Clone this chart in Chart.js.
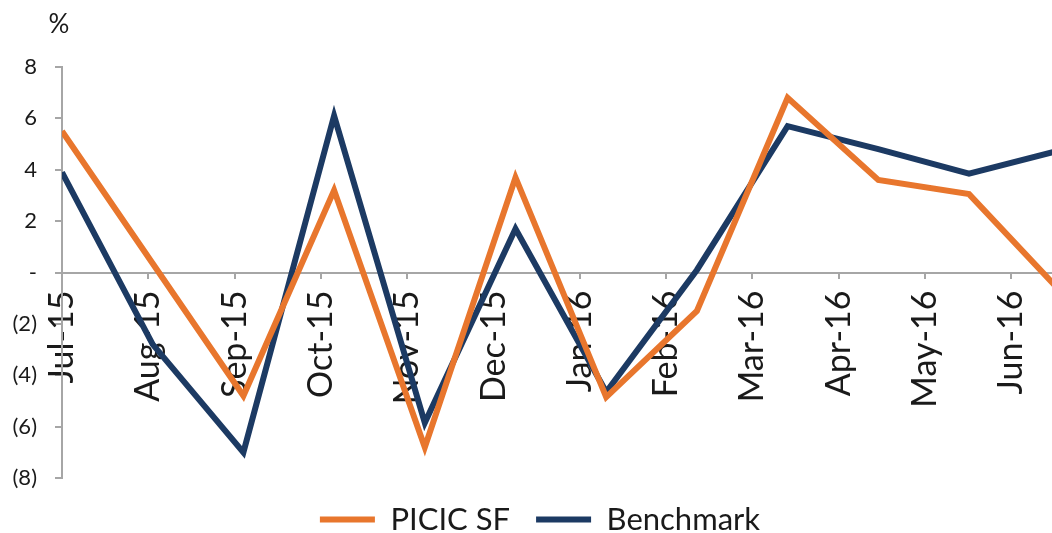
<!DOCTYPE html>
<html>
<head>
<meta charset="utf-8">
<script src="https://cdn.jsdelivr.net/npm/chart.js@4.4.1/dist/chart.umd.min.js"></script>
<style>
  html, body { margin: 0; padding: 0; background: #ffffff; overflow: hidden; }
  #wrap { width: 1052px; height: 533px; position: relative; }
</style>
</head>
<body>
<div id="wrap"><canvas id="c" width="1052" height="533"></canvas></div>
<script>
// ---- data ----
const months = ['Jul-15','Aug-15','Sep-15','Oct-15','Nov-15','Dec-15','Jan-16','Feb-16','Mar-16','Apr-16','May-16','Jun-16'];
const picicSF = [5.5, 0.35, -4.8, 3.2, -6.8, 3.7, -4.85, -1.5, 6.8, 3.6, 3.05, -0.7];
const benchmark = [3.9, -2.8, -7.0, 6.1, -5.85, 1.7, -4.65, 0.1, 5.7, 4.8, 3.85, 4.75];
const yTicks = [-8, -6, -4, -2, 0, 2, 4, 6, 8];

const ORANGE = '#E8762D';
const NAVY = '#1C3A63';
const AXIS = '#A6A6A6';
const FONT = 'Lato, "Open Sans", sans-serif';

const toPoints = arr => arr.map((v, i) => ({ x: i, y: v }));

const percentLabel = {
  id: 'percentLabel',
  afterLayout(chart) {
    if (chart.legend) { chart.legend.left += 28; }
  },
  afterDraw(chart) {
    const ctx = chart.ctx;
    ctx.save();
    ctx.font = '26px ' + FONT;
    ctx.fillStyle = '#1a1a1a';
    ctx.textAlign = 'center';
    ctx.textBaseline = 'middle';
    ctx.fillText('%', chart.chartArea.left - 3, 25);
    ctx.restore();
  }
};

const noPad = s => { s.paddingLeft = 0; s.paddingRight = 0; };

new Chart(document.getElementById('c'), {
  type: 'line',
  data: {
    datasets: [
      { label: 'PICIC SF', data: toPoints(picicSF), borderColor: ORANGE, backgroundColor: ORANGE,
        borderWidth: 6, pointRadius: 0, tension: 0, xAxisID: 'x', yAxisID: 'y' },
      { label: 'Benchmark', data: toPoints(benchmark), borderColor: NAVY, backgroundColor: NAVY,
        borderWidth: 6, pointRadius: 0, tension: 0, xAxisID: 'x', yAxisID: 'y' }
    ]
  },
  options: {
    responsive: false,
    animation: false,
    layout: { padding: { top: 67, right: 0, left: 0, bottom: 0 } },
    plugins: {
      tooltip: { enabled: false },
      title: { display: false },
      legend: {
        position: 'bottom',
        maxHeight: 55,
        labels: {
          usePointStyle: true,
          pointStyle: 'line',
          pointStyleWidth: 55,
          padding: 26,
          color: '#1a1a1a',
          font: { family: FONT, size: 31 }
        }
      }
    },
    scales: {
      x: {
        type: 'linear',
        display: false,
        min: 0,
        max: 10.915,
        afterFit: noPad
      },
      xl: {
        type: 'linear',
        position: { y: 0 },
        min: 0,
        max: 11.47,
        afterBuildTicks: s => { s.ticks = months.map((_, i) => ({ value: i })); },
        afterFit: noPad,
        grid: { display: true, drawOnChartArea: false, drawTicks: true, tickLength: 5, color: AXIS, lineWidth: 2 },
        border: { display: true, color: AXIS, width: 2 },
        ticks: {
          minRotation: 90, maxRotation: 90, padding: 13,
          color: '#1a1a1a',
          font: { family: FONT, size: 34 },
          callback: v => months[v] ?? ''
        }
      },
      y: {
        type: 'linear',
        position: 'left',
        min: -8,
        max: 8,
        afterBuildTicks: s => { s.ticks = yTicks.map(v => ({ value: v })); },
        afterFit: s => { s.width = 62; },
        grid: { display: true, drawOnChartArea: false, drawTicks: true, tickLength: 7, color: AXIS, lineWidth: 2 },
        border: { display: true, color: AXIS, width: 2 },
        ticks: {
          padding: 18,
          color: '#1a1a1a',
          font: { family: FONT, size: 22 },
          callback: v => v === 0 ? '-' : (v < 0 ? '(' + Math.abs(v) + ')' : String(v))
        }
      }
    }
  },
  plugins: [percentLabel]
});
</script>
</body>
</html>
